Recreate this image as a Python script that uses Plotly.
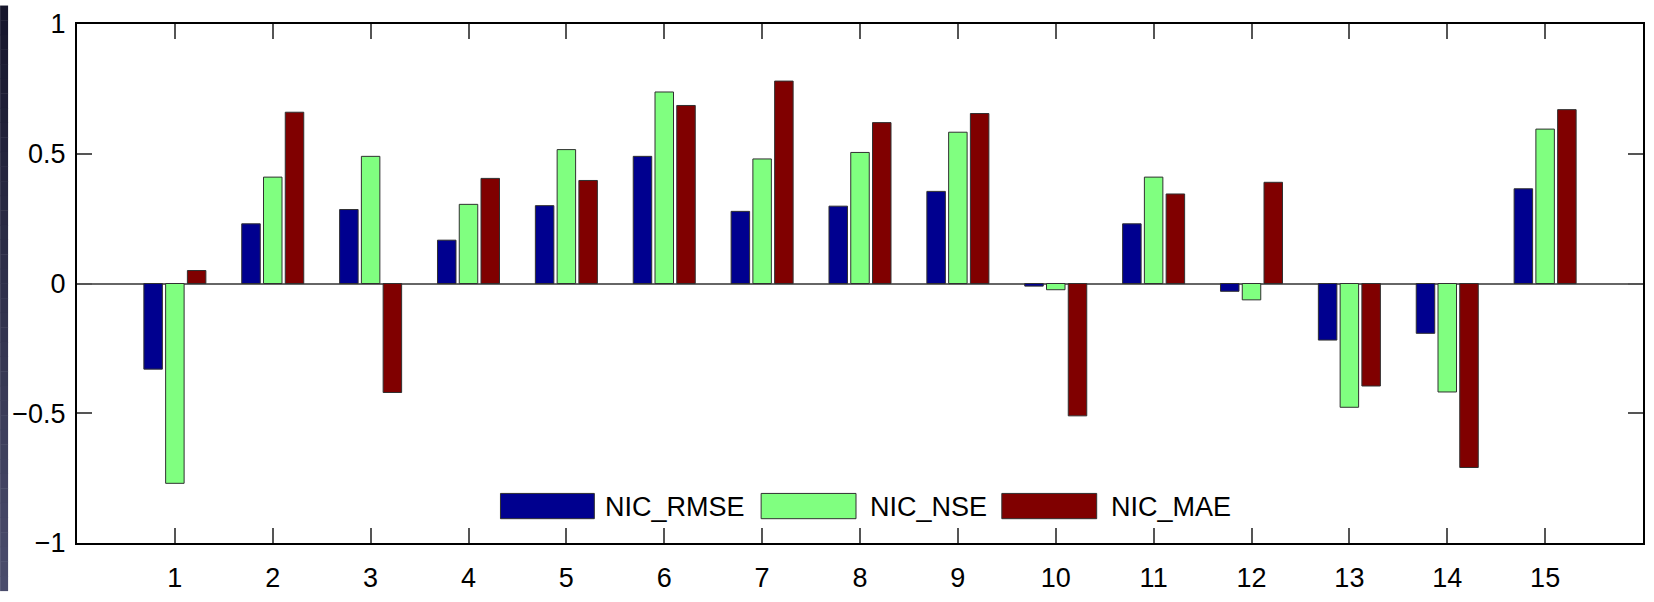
import plotly.graph_objects as go

categories = [str(i) for i in range(1, 16)]
nic_rmse = [-0.33, 0.23, 0.285, 0.167, 0.30, 0.49, 0.278, 0.298, 0.355, -0.01, 0.23, -0.03, -0.218, -0.192, 0.365]
nic_nse = [-0.77, 0.41, 0.49, 0.305, 0.516, 0.738, 0.48, 0.505, 0.583, -0.024, 0.41, -0.063, -0.477, -0.418, 0.595]
nic_mae = [0.05, 0.66, -0.42, 0.405, 0.397, 0.686, 0.78, 0.62, 0.655, -0.51, 0.345, 0.39, -0.395, -0.709, 0.67]
series_names = ["NIC_RMSE", "NIC_NSE", "NIC_MAE"]
series_colors = ["#00008F", "#80FF80", "#800000"]
y_ticks = [-1, -0.5, 0, 0.5, 1]
y_tick_labels = ["\u22121", "\u22120.5", "0", "0.5", "1"]

W, H = 1654, 602
L, R, T, B = 77, 1645, 19, 553
FONT = "Liberation Sans, Arial, Helvetica, sans-serif"

xs = list(range(1, 16))
fig = go.Figure()
for name, vals, col in zip(series_names, [nic_rmse, nic_nse, nic_mae], series_colors):
    fig.add_trace(go.Bar(
        x=xs, y=vals, name=name, showlegend=False,
        marker=dict(color=col, line=dict(color="#303030", width=1)),
    ))


def px_x(p):
    return (p - L) / (R - L)


def px_y(p):
    return (B - p) / (B - T)


shapes = []
# dark gradient strip on the left edge
n = 40
for i in range(n):
    t = i / (n - 1)
    c0 = (0x16, 0x16, 0x2C)
    c1 = (0x4A, 0x4C, 0x6C)
    c = tuple(int(round(a + (b - a) * t)) for a, b in zip(c0, c1))
    y0 = i * H / n
    y1 = (i + 1) * H / n + 0.5
    shapes.append(dict(type="rect", xref="paper", yref="paper",
                       x0=px_x(0), x1=px_x(8), y0=px_y(y1), y1=px_y(y0),
                       fillcolor="rgb(%d,%d,%d)" % c, line=dict(width=0), layer="below"))

# custom legend
legend_items = [(501, 595, 604), (762, 857, 869), (1003, 1098, 1110)]
annotations = []
for (a, b, tx), name, col in zip(legend_items, series_names, series_colors):
    shapes.append(dict(type="rect", xref="paper", yref="paper",
                       x0=px_x(a), x1=px_x(b), y0=px_y(528), y1=px_y(502),
                       fillcolor=col, line=dict(color="#303030", width=1)))
    annotations.append(dict(xref="paper", yref="paper", x=px_x(tx), y=px_y(516),
                            xanchor="left", yanchor="middle", showarrow=False,
                            text=name, font=dict(family=FONT, size=27, color="#000")))

fig.update_layout(
    width=W, height=H,
    margin=dict(l=L, r=W - R, t=T, b=H - B, pad=0),
    paper_bgcolor="white", plot_bgcolor="white",
    barmode="group", bargap=0.333, bargroupgap=0.15,
    shapes=shapes, annotations=annotations,
    font=dict(family=FONT, size=27, color="#000"),
)
fig.update_xaxes(
    range=[0, 16], tickmode="array", tickvals=xs, ticktext=categories,
    ticks="inside", ticklen=15, tickwidth=1.5, tickcolor="#555",
    showline=True, linecolor="#000", linewidth=2, mirror="ticks",
    showgrid=False, zeroline=False, ticklabelstandoff=10,
)
fig.update_yaxes(
    range=[-1, 1], tickmode="array", tickvals=y_ticks, ticktext=y_tick_labels,
    ticks="inside", ticklen=15, tickwidth=1.5, tickcolor="#555",
    showline=True, linecolor="#000", linewidth=2, mirror="ticks",
    showgrid=False, zeroline=True, zerolinecolor="#666666", zerolinewidth=1.5,
    ticklabelstandoff=4,
)

fig.write_html("out.html")
